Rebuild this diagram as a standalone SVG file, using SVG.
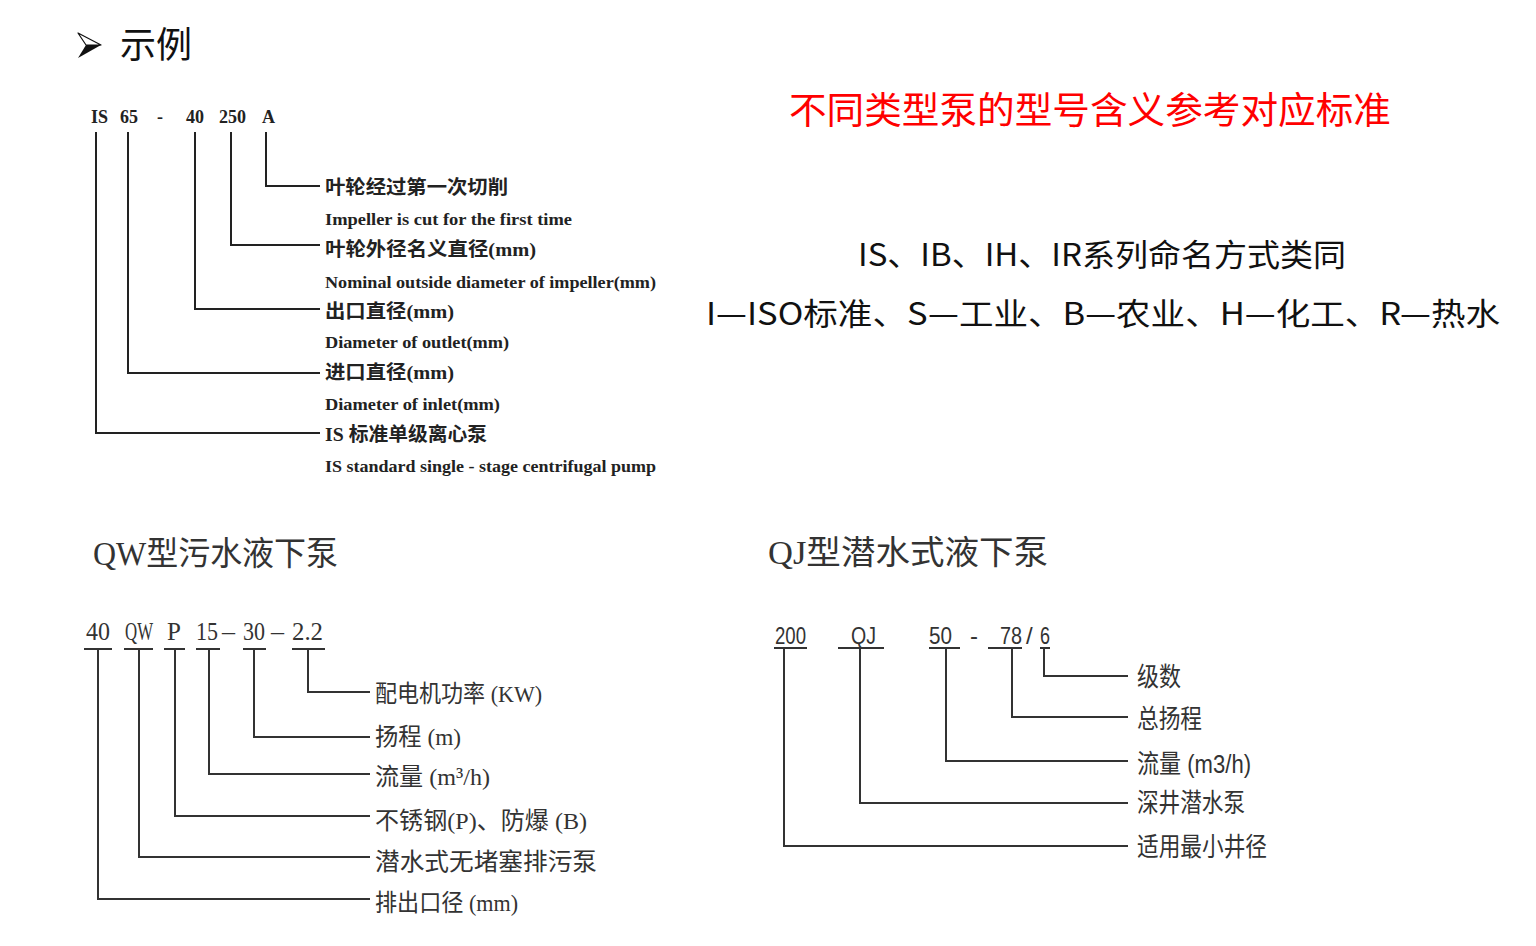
<svg xmlns="http://www.w3.org/2000/svg" width="1536" height="946" viewBox="0 0 1536 946">
<style>
.ln{fill:none;stroke:#222;stroke-width:2}
.ln2{fill:none;stroke:#333;stroke-width:2}
.is{font-family:"Liberation Serif","Noto Sans CJK SC",serif;font-weight:700;fill:#222}
.cn{font-family:"Liberation Serif","Noto Sans CJK SC",serif;fill:#333}
.sn{font-family:"Liberation Sans","Noto Sans CJK SC",sans-serif;fill:#333}
.hd{font-family:"Noto Sans CJK SC",sans-serif}
</style>
<rect width="1536" height="946" fill="#fff"/>
<g id="title">
<polygon points="78,33 101,45 86,45" fill="#fff" stroke="#111" stroke-width="1.2" stroke-linejoin="round"/>
<polygon points="86,45 101,45 78,58" fill="#111"/>
<text x="120" y="58" class="hd" font-size="36" fill="#111">示例</text>
</g>
<g id="notes">
<text x="1090" y="124" class="hd" font-size="37" fill="#f00" text-anchor="middle" textLength="602" lengthAdjust="spacingAndGlyphs">不同类型泵的型号含义参考对应标准</text>
<text x="1102" y="266" class="hd" font-size="31" fill="#111" text-anchor="middle" textLength="488" lengthAdjust="spacingAndGlyphs">IS、IB、IH、IR系列命名方式类同</text>
<text x="1103" y="325" class="hd" font-size="31" fill="#111" text-anchor="middle" textLength="794" lengthAdjust="spacingAndGlyphs">I—ISO标准、S—工业、B—农业、H—化工、R—热水</text>
</g>
<g id="is-code" class="is" font-size="18">
<text x="91" y="123">IS</text>
<text x="120" y="123">65</text>
<text x="157" y="123">-</text>
<text x="186" y="123">40</text>
<text x="219" y="123">250</text>
<text x="262" y="123">A</text>
</g>
<g id="is-labels" class="is">
<text x="325" y="194" font-size="19" textLength="183" lengthAdjust="spacingAndGlyphs">叶轮经过第一次切削</text>
<text x="325" y="225" font-size="17" textLength="247" lengthAdjust="spacingAndGlyphs">Impeller is cut for the first time</text>
<text x="325" y="256" font-size="19" textLength="211" lengthAdjust="spacingAndGlyphs">叶轮外径名义直径(mm)</text>
<text x="325" y="288" font-size="17" textLength="331" lengthAdjust="spacingAndGlyphs">Nominal outside diameter of impeller(mm)</text>
<text x="325" y="318" font-size="19" textLength="129" lengthAdjust="spacingAndGlyphs">出口直径(mm)</text>
<text x="325" y="348" font-size="17" textLength="184" lengthAdjust="spacingAndGlyphs">Diameter of outlet(mm)</text>
<text x="325" y="379" font-size="19" textLength="129" lengthAdjust="spacingAndGlyphs">进口直径(mm)</text>
<text x="325" y="410" font-size="17" textLength="175" lengthAdjust="spacingAndGlyphs">Diameter of inlet(mm)</text>
<text x="325" y="441" font-size="19" textLength="162" lengthAdjust="spacingAndGlyphs">IS 标准单级离心泵</text>
<text x="325" y="472" font-size="17" textLength="331" lengthAdjust="spacingAndGlyphs">IS standard single - stage centrifugal pump</text>
</g>
<g id="qw-head">
<text x="93" y="565" class="cn" font-size="33" textLength="245" lengthAdjust="spacingAndGlyphs">QW型污水液下泵</text>
</g>
<g id="qw-code" class="cn" font-size="25">
<text x="86" y="640" textLength="24" lengthAdjust="spacingAndGlyphs">40</text>
<text x="125" y="640" textLength="28" lengthAdjust="spacingAndGlyphs">QW</text>
<text x="167" y="640">P</text>
<text x="196" y="640" textLength="22" lengthAdjust="spacingAndGlyphs">15</text>
<text x="222" y="640" textLength="13" lengthAdjust="spacingAndGlyphs">–</text>
<text x="243" y="640" textLength="22" lengthAdjust="spacingAndGlyphs">30</text>
<text x="271" y="640" textLength="13" lengthAdjust="spacingAndGlyphs">–</text>
<text x="292" y="640" textLength="31" lengthAdjust="spacingAndGlyphs">2.2</text>
</g>
<g id="qw-labels" class="cn" font-size="24">
<text x="375" y="702" textLength="167" lengthAdjust="spacingAndGlyphs">配电机功率 (KW)</text>
<text x="375" y="745" textLength="86" lengthAdjust="spacingAndGlyphs">扬程 (m)</text>
<text x="375" y="785" textLength="115" lengthAdjust="spacingAndGlyphs">流量 (m³/h)</text>
<text x="375" y="829" textLength="212" lengthAdjust="spacingAndGlyphs">不锈钢(P)、防爆 (B)</text>
<text x="375" y="870" textLength="222" lengthAdjust="spacingAndGlyphs">潜水式无堵塞排污泵</text>
<text x="375" y="911" textLength="143" lengthAdjust="spacingAndGlyphs">排出口径 (mm)</text>
</g>
<g id="qj-head">
<text x="768" y="564" class="cn" font-size="33" textLength="280" lengthAdjust="spacingAndGlyphs">QJ型潜水式液下泵</text>
</g>
<g id="qj-code" class="sn" font-size="24">
<text x="775" y="644" textLength="31" lengthAdjust="spacingAndGlyphs">200</text>
<text x="851" y="644" textLength="25" lengthAdjust="spacingAndGlyphs">QJ</text>
<text x="929" y="644" textLength="23" lengthAdjust="spacingAndGlyphs">50</text>
<text x="970" y="644">-</text>
<text x="1000" y="644" textLength="22" lengthAdjust="spacingAndGlyphs">78</text>
<text x="1026" y="644">/</text>
<text x="1040" y="644" textLength="10" lengthAdjust="spacingAndGlyphs">6</text>
</g>
<g id="qj-labels" class="sn" font-size="26">
<text x="1137" y="686" textLength="44" lengthAdjust="spacingAndGlyphs">级数</text>
<text x="1137" y="728" textLength="65" lengthAdjust="spacingAndGlyphs">总扬程</text>
<text x="1137" y="773" textLength="114" lengthAdjust="spacingAndGlyphs">流量 (m3/h)</text>
<text x="1137" y="812" textLength="108" lengthAdjust="spacingAndGlyphs">深井潜水泵</text>
<text x="1137" y="856" textLength="130" lengthAdjust="spacingAndGlyphs">适用最小井径</text>
</g>
<g id="connectors">
<path class="ln" d="M266,132V186H320M231,132V245H320M195,132V309H320M128,132V373H320M96,132V433H320"/>
<path class="ln2" d="M84,649H112M124,649H153M164,649H185M196,649H220M243,649H266M292,649H325"/>
<path class="ln2" d="M308,649V692H370M254,649V737H370M209,649V774H370M175,649V816H370M139,649V857H370M98,649V899H370"/>
<path class="ln2" d="M774,648H807M838,648H884M929,648H960M988,648H1022M1040,648H1050"/>
<path class="ln2" d="M1044,648V676H1128M1012,648V717H1128M946,648V761H1128M860,648V803H1128M784,648V846H1128"/>
</g>
</svg>
